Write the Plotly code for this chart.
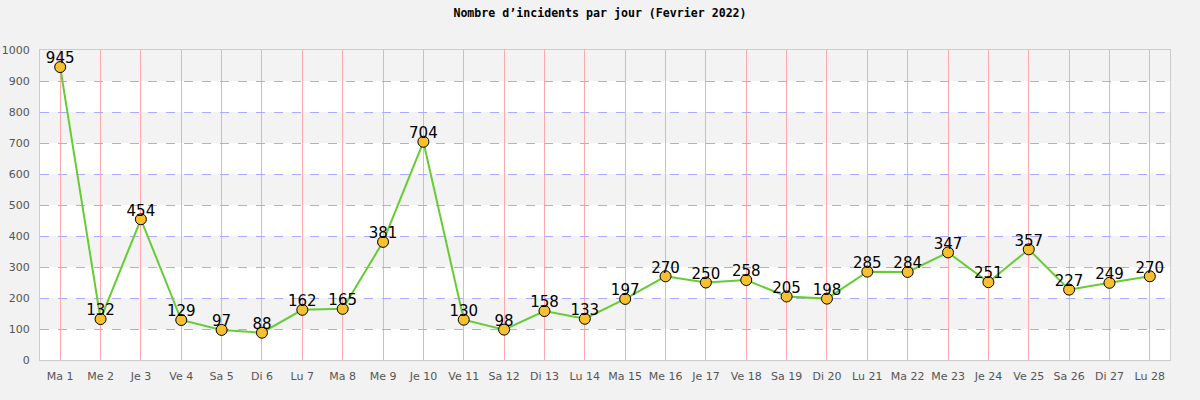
import plotly.graph_objects as go

days = ["Ma 1", "Me 2", "Je 3", "Ve 4", "Sa 5", "Di 6", "Lu 7", "Ma 8", "Me 9", "Je 10",
        "Ve 11", "Sa 12", "Di 13", "Lu 14", "Ma 15", "Me 16", "Je 17", "Ve 18", "Sa 19", "Di 20",
        "Lu 21", "Ma 22", "Me 23", "Je 24", "Ve 25", "Sa 26", "Di 27", "Lu 28"]
incidents = [945, 132, 454, 129, 97, 88, 162, 165, 381, 704,
             130, 98, 158, 133, 197, 270, 250, 258, 205, 198,
             285, 284, 347, 251, 357, 227, 249, 270]
title = "Nombre d\u2019incidents par jour (Fevrier 2022)"

fig = go.Figure()
fig.add_trace(go.Scatter(
    x=days, y=incidents, mode="lines+markers",
    line=dict(color="#66cc33", width=2),
    marker=dict(size=11, color="#f7c02e", line=dict(color="black", width=1)),
    cliponaxis=False, hoverinfo="x+y",
))
fig.add_trace(go.Scatter(
    x=days, y=incidents, mode="text",
    text=[str(v) for v in incidents], textposition="top center",
    textfont=dict(family="DejaVu Sans", size=15, color="black"),
    cliponaxis=False, hoverinfo="skip",
))

shapes = []
for lo in range(100, 1000, 200):
    shapes.append(dict(type="rect", xref="paper", yref="y", x0=0, x1=1, y0=lo, y1=lo + 100,
                       fillcolor="#f3f3f3", line=dict(width=0), layer="below"))

fig.update_layout(
    width=1200, height=400,
    paper_bgcolor="#f2f2f2", plot_bgcolor="white",
    margin=dict(l=40, r=30, t=50, b=40),
    showlegend=False,
    shapes=shapes,
    title=dict(text="<b>" + title + "</b>", x=0.5, xanchor="center", y=0.967, yanchor="middle",
               font=dict(family="DejaVu Sans Mono", size=11.6, color="black")),
    xaxis=dict(range=[-0.5, 27.5], showgrid=True, gridcolor="#ffaaaa", gridwidth=1,
               showline=True, linecolor="#cccccc", mirror=True, ticks="", ticklabelstandoff=6,
               automargin=False,
               tickfont=dict(family="DejaVu Sans", size=11, color="#555555"), fixedrange=True),
    yaxis=dict(range=[0, 1000], dtick=100, showgrid=True, gridcolor="#aaaaff", griddash="dash",
               gridwidth=1, showline=True, linecolor="#cccccc", mirror=True, ticks="",
               ticklabelstandoff=7, automargin=False,
               zeroline=False, tickfont=dict(family="DejaVu Sans", size=11, color="#555555"),
               fixedrange=True),
)
fig.write_html("out.html")
